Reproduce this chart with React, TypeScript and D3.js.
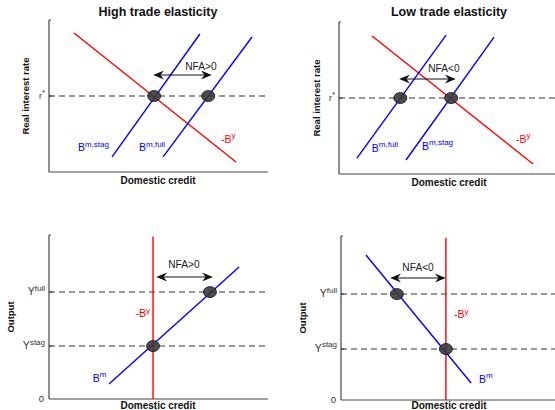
import React from 'react'
import * as d3 from 'd3'

const W = 555
const H = 410

// data units: every panel runs 0..10 on both axes
const titles = ['High trade elasticity', 'Low trade elasticity', '', '']
const yLabels = ['Real interest rate', 'Real interest rate', 'Output', 'Output']

// [x1, y1, x2, y2]
const redLines = [
  [1.14, 9.14, 8.54, 0.66],
  [1.51, 9.08, 8.86, 0.66],
  [4.75, 9.9, 4.75, 0],
  [4.79, 9.9, 4.79, 0],
]
const blueLines = [
  [[2.88, 0.99, 6.89, 9.08], [5.21, 0.99, 9.27, 8.88]],
  [[0.82, 1.05, 4.89, 9.14], [3.06, 0.92, 7.08, 9.01]],
  [[2.74, 0.91, 8.68, 8.05]],
  [[1.14, 8.84, 5.94, 1.04]],
]
// dashed horizontal levels
const levels = [[5.0], [5.0], [6.52, 3.23], [6.46, 3.11]]
const levelLabels = [[['r', '*']], [['r', '*']], [['Y', 'full'], ['Y', 'stag']], [['Y', 'full'], ['Y', 'stag']]]
// equilibrium points
const points = [
  [[4.8, 5.0], [7.27, 5.0]],
  [[2.8, 5.0], [5.12, 5.0]],
  [[4.75, 3.23], [7.35, 6.52]],
  [[2.55, 6.46], [4.79, 3.11]],
]
// NFA arrows [x1, x2, y]
const arrows = [[4.75, 7.44, 6.38], [2.74, 5.34, 6.25], [4.89, 7.49, 7.44], [2.24, 4.79, 7.44]]
const nfaText = ['NFA>0', 'NFA<0', 'NFA>0', 'NFA<0']
const nfaPos = [[6.94, 6.71], [4.79, 6.71], [6.16, 7.99], [3.52, 7.87]]
// curve labels [base, sup, x, y, colour]
const curveLabels = [
  [['B', 'm,stag', 1.32, 1.38, 'blue'], ['B', 'm,full', 4.11, 1.38, 'blue'], ['-B', 'y', 7.85, 1.91, 'red']],
  [['B', 'm,full', 1.5, 1.45, 'blue'], ['B', 'm,stag', 3.79, 1.58, 'blue'], ['-B', 'y', 8.08, 2.04, 'red']],
  [['-B', 'y', 3.95, 5.0, 'red'], ['B', 'm', 2.0, 1.04, 'blue']],
  [['-B', 'y', 5.16, 5.0, 'red'], ['B', 'm', 6.3, 1.04, 'blue']],
]

const frames = [
  { left: 49, right: 268, top: 20, bottom: 172 },
  { left: 339, right: 558, top: 22, bottom: 174 },
  { left: 49, right: 268, top: 235, bottom: 399 },
  { left: 341, right: 560, top: 236, bottom: 400 },
]
const yLabelX = [29, 320, 14, 306]

const font = '"Liberation Sans", Arial, sans-serif'

function Panel({ i }: { i: number }) {
  const f = frames[i]
  const x = d3.scaleLinear().domain([0, 10]).range([f.left, f.right])
  const y = d3.scaleLinear().domain([0, 10]).range([f.bottom, f.top])
  const seg = (l: number[]) => ({ x1: x(l[0]), y1: y(l[1]), x2: x(l[2]), y2: y(l[3]) })
  const isBottom = i >= 2
  const colX = i % 2 === 0 ? 158 : 449
  return (
    <g>
      {titles[i] && (
        <text x={colX} y={16} textAnchor="middle" fontWeight="bold" fontSize={12.5} fill="#111">
          {titles[i]}
        </text>
      )}
      {levels[i].map((v, k) => (
        <line key={'lv' + k} x1={x(0)} x2={x(10)} y1={y(v)} y2={y(v)} stroke="#333" strokeWidth={1.1} strokeDasharray="6,4" />
      ))}
      <line x1={f.left} x2={f.left} y1={f.top} y2={f.bottom} stroke="#444" strokeWidth={1.2} />
      <line x1={f.left} x2={f.right} y1={f.bottom} y2={f.bottom} stroke="#444" strokeWidth={1.2} />
      <line x1={f.left} x2={f.left + 2} y1={f.top} y2={f.top} stroke="#444" strokeWidth={1} />
      {levels[i].map((v, k) => (
        <g key={'ll' + k}>
          <line x1={f.left} x2={f.left + 3} y1={y(v)} y2={y(v)} stroke="#333" strokeWidth={1} />
          <text x={f.left - 4} y={y(v) + 3} textAnchor="end" fontSize={levelLabels[i][k][0] === 'r' ? 8.5 : 10.5} fill="#333">
            {levelLabels[i][k][0]}
            <tspan dy={-4.5} fontSize={8}>{levelLabels[i][k][1]}</tspan>
          </text>
        </g>
      ))}
      {isBottom && (
        <text x={f.left - 5} y={f.bottom + 3} textAnchor="end" fontSize={9.5} fill="#333">0</text>
      )}
      <text transform={`translate(${yLabelX[i]},${(f.top + f.bottom) / 2}) rotate(-90)`}
        textAnchor="middle" fontWeight="bold" fontSize={9.5} fill="#111">
        {yLabels[i]}
      </text>
      <text x={colX} y={isBottom ? 409 : f.bottom + 11.5} textAnchor="middle" fontWeight="bold" fontSize={10} fill="#111">
        Domestic credit
      </text>
      <line {...seg(redLines[i])} stroke="#f00" strokeWidth={1.4} />
      {blueLines[i].map((l, k) => (
        <line key={'b' + k} {...seg(l)} stroke="#00f" strokeWidth={1.4} />
      ))}
      {points[i].map((p, k) => (
        <ellipse key={'p' + k} cx={x(p[0])} cy={y(p[1])} rx={6.5} ry={5.5} fill="#3a3a3a" fillOpacity={0.9} stroke="#111" strokeWidth={0.8} />
      ))}
      <line x1={x(arrows[i][0]) + 2} x2={x(arrows[i][1]) - 2} y1={y(arrows[i][2])} y2={y(arrows[i][2])}
        stroke="#111" strokeWidth={1.1} markerStart="url(#ah)" markerEnd="url(#ah)" />
      <text x={x(nfaPos[i][0])} y={y(nfaPos[i][1])} textAnchor="middle" fontSize={10.2} fill="#222">{nfaText[i]}</text>
      {curveLabels[i].map((c, k) => (
        <text key={'c' + k} x={x(c[2] as number)} y={y(c[3] as number)} fontSize={10.5} fill={c[4] === 'red' ? '#f00' : '#00f'}>
          {c[0] as string}
          <tspan dy={-4.5} fontSize={8}>{c[1] as string}</tspan>
        </text>
      ))}
    </g>
  )
}

export default function App() {
  return (
    <svg width={W} height={H} style={{ position: 'absolute', left: 0, top: 0, background: '#fff' }} fontFamily={font}>
      <defs>
        <marker id="ah" viewBox="0 0 12 10" refX={10} refY={5} markerWidth={12} markerHeight={9}
          markerUnits="userSpaceOnUse" orient="auto-start-reverse">
          <path d="M0,0 L12,5 L0,10 L4,5 Z" fill="#111" />
        </marker>
      </defs>
      <rect width={W} height={H} fill="#fff" />
      {[0, 1, 2, 3].map((i) => (
        <Panel key={i} i={i} />
      ))}
    </svg>
  )
}
